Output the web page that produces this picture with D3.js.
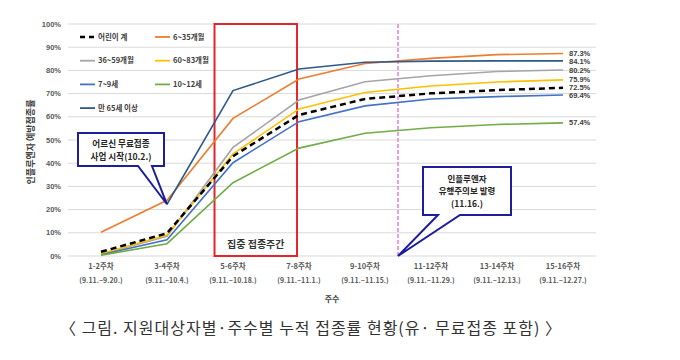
<!DOCTYPE html>
<html><head><meta charset="utf-8">
<script src="https://cdn.jsdelivr.net/npm/d3@7"></script>
<style>body{margin:0;background:#fff}svg{display:block}</style>
</head><body>
<svg id="c" width="680" height="360"></svg>
<script>
const categories = ["1-2주차","3-4주차","5-6주차","7-8주차","9-10주차","11-12주차","13-14주차","15-16주차"];
const periods = ["(9.11.~9.20.)","(9.11.~10.4.)","(9.11.~10.18.)","(9.11.~11.1.)","(9.11.~11.15.)","(9.11.~11.29.)","(9.11.~12.13.)","(9.11.~12.27.)"];
const seriesNames = ["어린이 계","6~35개월","36~59개월","60~83개월","7~9세","10~12세","만 65세 이상"];
const childTotal = [1.8, 9.8, 43.0, 60.8, 67.7, 70.1, 71.5, 72.5];
const m6to35 = [10.2, 24.0, 59.3, 76.3, 83.0, 85.2, 86.8, 87.3];
const m36to59 = [0.8, 8.5, 46.8, 67.2, 75.1, 77.7, 79.5, 80.2];
const m60to83 = [1.0, 9.0, 44.0, 63.4, 70.5, 73.3, 75.0, 75.9];
const y7to9 = [0.5, 7.0, 40.2, 57.9, 64.7, 67.7, 68.7, 69.4];
const y10to12 = [0.3, 5.3, 31.6, 46.5, 52.9, 55.3, 56.7, 57.4];
const y65plus = [null, 22.3, 71.3, 80.6, 83.5, 84.0, 84.1, 84.1];
const yTicks = [0,10,20,30,40,50,60,70,80,90,100];
const endLabels = ["72.5%","87.3%","80.2%","75.9%","69.4%","57.4%","84.1%"];

const colors = ["#000000","#ED7D31","#A5A5A5","#FFC000","#4472C4","#70AD47","#2E5A88"];
const allSeries = [childTotal,m6to35,m36to59,m60to83,y7to9,y10to12,y65plus];

const svg = d3.select("#c");
const font = "'Noto Sans CJK KR','Noto Sans',sans-serif";
const numFont = "'Liberation Sans','DejaVu Sans',sans-serif";
const L=68, R=596, T=24, B=256;
const x = d3.scaleBand().domain(categories).range([L,R]);
const cx = c => x(c)+x.bandwidth()/2;
const y = d3.scaleLinear().domain([0,100]).range([B,T]);

// gridlines
svg.append("g").selectAll("line").data(yTicks).join("line")
  .attr("x1",L).attr("x2",R).attr("y1",d=>y(d)).attr("y2",d=>y(d))
  .attr("stroke","#D9D9D9").attr("stroke-width",1);
// y tick labels
svg.append("g").selectAll("text").data(yTicks).join("text")
  .attr("x",61).attr("y",d=>y(d)).attr("dy","0.35em").attr("text-anchor","end")
  .attr("font-family",numFont).attr("font-size",7.5).attr("font-weight","bold").attr("fill","#595959")
  .text(d=>d+"%");
// x tick labels
const xl = svg.append("g").selectAll("g").data(categories).join("g");
xl.append("text").attr("x",d=>cx(d)).attr("y",269).attr("text-anchor","middle")
  .attr("font-family",font).attr("font-size",7.5).attr("font-weight","bold").attr("fill","#595959").text(d=>d);
xl.append("text").attr("x",d=>cx(d)).attr("y",283).attr("text-anchor","middle")
  .attr("font-family",font).attr("font-size",7).attr("font-weight","bold").attr("fill","#595959")
  .text((d,i)=>periods[i]);
// axis titles
svg.append("text").attr("x",(L+R)/2).attr("y",302).attr("text-anchor","middle")
  .attr("font-family",font).attr("font-size",8).attr("font-weight","bold").attr("fill","#404040").text("주수");
svg.append("text").attr("transform",`translate(34,${(T+B)/2+2}) rotate(-90)`).attr("text-anchor","middle")
  .attr("font-family",font).attr("font-size",9).attr("font-weight","bold").attr("fill","#404040").text("인플루엔자 예방접종률");

// red rectangle (집중 접종주간)
const step = x.step();
const rx1 = cx(categories[2]) - 0.28*step, rx2 = cx(categories[3]) - 0.03*step;
svg.append("rect").attr("x",rx1).attr("y",T).attr("width",rx2-rx1).attr("height",B-T)
  .attr("fill","none").attr("stroke","#E3262B").attr("stroke-width",2);
svg.append("text").attr("x",(rx1+rx2)/2).attr("y",B-12).attr("dy","0.35em").attr("text-anchor","middle")
  .attr("font-family",font).attr("font-size",10).attr("font-weight","bold").attr("fill","#333").text("집중 접종주간");

// pink dashed vertical line
const vx = x(categories[5]);
svg.append("line").attr("x1",vx).attr("x2",vx).attr("y1",T).attr("y2",B)
  .attr("stroke","#E77FE0").attr("stroke-width",1.5).attr("stroke-dasharray","4,2");

// lines
const line = d3.line().defined(d=>d.v!=null).x(d=>cx(d.c)).y(d=>y(d.v));
const order = [1,2,3,4,5,6,0];
order.forEach(i=>{
  const data = allSeries[i].map((v,j)=>({c:categories[j],v}));
  svg.append("path").datum(data).attr("d",line).attr("fill","none")
    .attr("stroke",colors[i]).attr("stroke-width", i===0?2.5:1.6)
    .attr("stroke-dasharray", i===0?"6,4":null);
});
// end labels with simple collision spacing
const lab = allSeries.map((d,i)=>({t:endLabels[i], y:y(d[7])})).sort((a,b)=>a.y-b.y);
const gap = 8.2;
for (let k=0;k<3;k++){
  for (let i=1;i<lab.length;i++){
    const ov = gap-(lab[i].y-lab[i-1].y);
    if (ov>0){ lab[i].y += ov/2; lab[i-1].y -= ov/2; }
  }
}
svg.append("g").selectAll("text").data(lab).join("text")
  .attr("x",cx(categories[7])+6).attr("y",d=>d.y).attr("dy","0.35em")
  .attr("font-family",numFont).attr("font-size",7.5).attr("font-weight","bold").attr("fill","#404040")
  .text(d=>d.t);

// legend
const leg = svg.append("g");
seriesNames.forEach((n,i)=>{
  const col = i%2, row = Math.floor(i/2);
  const lx = col===0?80:155, ly = 37 + row*23.7;
  leg.append("line").attr("x1",lx).attr("x2",lx+15).attr("y1",ly).attr("y2",ly)
    .attr("stroke",colors[i]).attr("stroke-width",i===0?2.5:1.8).attr("stroke-dasharray",i===0?"5,4":null);
  leg.append("text").attr("x",lx+18).attr("y",ly).attr("dy","0.35em")
    .attr("font-family",font).attr("font-size",7.5).attr("font-weight","bold").attr("fill","#404040").text(n);
});

// callout 1
const navy = "#1E1E9A";
const tip1 = [cx(categories[1]), y(y65plus[1])];
svg.append("path").attr("d",`M78,133 H164 V166 H152 L${tip1[0]},${tip1[1]} L138,166 H78 Z`)
  .attr("fill","#fff").attr("stroke",navy).attr("stroke-width",2).attr("stroke-linejoin","miter");
["어르신 무료접종","사업 시작(10.2.)"].forEach((t,i)=>{
  svg.append("text").attr("x",121).attr("y",144+i*12.6).attr("dy","0.35em").attr("text-anchor","middle")
    .attr("font-family",font).attr("font-size",8.6).attr("font-weight","bold").attr("fill","#262626").text(t);
});
// callout 2
const tip2 = [vx, B];
svg.append("path").attr("d",`M423,167 H511 V215 H460 L${tip2[0]},${tip2[1]} L438,215 H423 Z`)
  .attr("fill","#fff").attr("stroke",navy).attr("stroke-width",2);
["인플루엔자","유행주의보 발령","(11.16.)"].forEach((t,i)=>{
  svg.append("text").attr("x",467).attr("y",179+i*12.4).attr("dy","0.35em").attr("text-anchor","middle")
    .attr("font-family",font).attr("font-size",8.5).attr("font-weight","bold").attr("fill","#262626").text(t);
});

// caption
svg.append("text").attr("x",311).attr("y",328).attr("dy","0.35em").attr("text-anchor","middle")
  .attr("font-family",font).attr("font-size",16).attr("letter-spacing","1px").attr("fill","#333")
  .text("〈 그림. 지원대상자별·주수별 누적 접종률 현황(유· 무료접종 포함) 〉");
</script>
</body></html>
